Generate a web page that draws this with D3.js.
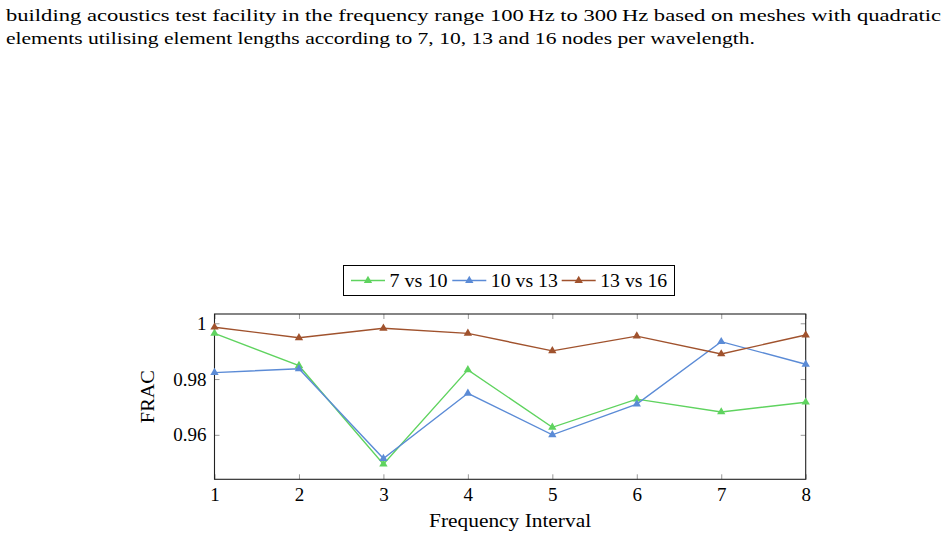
<!DOCTYPE html>
<html>
<head>
<meta charset="utf-8">
<script src="https://cdn.jsdelivr.net/npm/d3@7/dist/d3.min.js"></script>
<style>
  html, body { margin: 0; padding: 0; background: #fff; }
  svg { display: block; }
  text { font-family: "Liberation Serif", "DejaVu Serif", serif; fill: #000; }
</style>
</head>
<body>
<svg id="chart" width="947" height="541"></svg>
<script>
// ---- data ----
const intervals = [1, 2, 3, 4, 5, 6, 7, 8];
const seriesNames = ["7 vs 10", "10 vs 13", "13 vs 16"];
const frac7vs10  = [0.9964, 0.9848, 0.9495, 0.9833, 0.9627, 0.9728, 0.9682, 0.9717];
const frac10vs13 = [0.9823, 0.9837, 0.9515, 0.9749, 0.9600, 0.9710, 0.9934, 0.9853];
const frac13vs16 = [0.9986, 0.9948, 0.9982, 0.9964, 0.9901, 0.9954, 0.9890, 0.9958];
const yTicks = [0.96, 0.98, 1];
const yTickLabels = ["0.96", "0.98", "1"];
const xTickLabels = ["1", "2", "3", "4", "5", "6", "7", "8"];
const seriesColors = ["#5fd35f", "#5b8bd6", "#a0522d"];
const captionLines = [
  "building acoustics test facility in the frequency range 100\u2009Hz to 300\u2009Hz based on meshes with quadratic",
  "elements utilising element lengths according to 7, 10, 13 and 16 nodes per wavelength."
];

const series = [frac7vs10, frac10vs13, frac13vs16].map((vals, i) => ({
  name: seriesNames[i], color: seriesColors[i],
  points: intervals.map((xv, j) => ({ x: xv, y: vals[j] }))
}));

const svg = d3.select("#chart");

// caption text
const capWidths = [935, 749];
captionLines.forEach((t, i) => {
  svg.append("text")
    .attr("x", 6).attr("y", 20.5 + i * 23.8)
    .attr("font-size", 17.5)
    .attr("textLength", capWidths[i])
    .attr("lengthAdjust", "spacingAndGlyphs")
    .text(t);
});

// plot area
const pLeft = 214.5, pRight = 805.7, pTop = 314, pBottom = 479.3;
const x = d3.scaleLinear().domain([1, 8]).range([pLeft, pRight]);
const y = d3.scaleLinear().domain([0.94405, 1.00333]).range([pBottom, pTop]);

// ticks (inside, on all sides)
const tickLen = 5;
const gAxes = svg.append("g");
const xAxisB = d3.axisBottom(x).tickValues(intervals).tickFormat((d, i) => xTickLabels[i]).tickSize(-tickLen).tickPadding(8);
const xAxisT = d3.axisTop(x).tickValues(intervals).tickFormat("").tickSize(-tickLen);
const yAxisL = d3.axisLeft(y).tickValues(yTicks).tickFormat((d, i) => yTickLabels[i]).tickSize(-tickLen).tickPadding(8);
const yAxisR = d3.axisRight(y).tickValues(yTicks).tickFormat("").tickSize(-tickLen);

function styleAxis(g) {
  g.select(".domain").remove();
  g.selectAll(".tick line").attr("stroke", "#999").attr("stroke-width", 1);
  g.selectAll(".tick text").attr("font-size", 19).attr("font-family", "Liberation Serif, DejaVu Serif, serif").attr("fill", "#000");
}
gAxes.append("g").attr("transform", `translate(0,${pBottom})`).call(xAxisB).call(styleAxis);
gAxes.append("g").attr("transform", `translate(0,${pTop})`).call(xAxisT).call(styleAxis);
gAxes.append("g").attr("transform", `translate(${pLeft},0)`).call(yAxisL).call(styleAxis);
gAxes.append("g").attr("transform", `translate(${pRight},0)`).call(yAxisR).call(styleAxis);

// frame
svg.append("rect")
  .attr("x", pLeft).attr("y", pTop)
  .attr("width", pRight - pLeft).attr("height", pBottom - pTop)
  .attr("fill", "none").attr("stroke", "#222").attr("stroke-width", 1.1);

// series
const line = d3.line().x(d => x(d.x)).y(d => y(d.y));
const tri = d3.symbol().type(d3.symbolTriangle).size(30);
series.forEach(s => {
  svg.append("path").datum(s.points)
    .attr("d", line).attr("fill", "none")
    .attr("stroke", s.color).attr("stroke-width", 1.4);
  svg.append("g").selectAll("path").data(s.points).join("path")
    .attr("d", tri)
    .attr("transform", d => `translate(${x(d.x)},${y(d.y)})`)
    .attr("fill", s.color);
});

// axis labels
svg.append("text")
  .attr("x", (pLeft + pRight) / 2).attr("y", 527.3)
  .attr("text-anchor", "middle").attr("font-size", 19)
  .attr("textLength", 162).attr("lengthAdjust", "spacingAndGlyphs")
  .text("Frequency Interval");
svg.append("text")
  .attr("transform", `translate(153.5,${(pTop + pBottom) / 2}) rotate(-90)`)
  .attr("text-anchor", "middle").attr("font-size", 19)
  .attr("textLength", 53).attr("lengthAdjust", "spacingAndGlyphs")
  .text("FRAC");

// legend
const legend = svg.append("g");
legend.append("rect")
  .attr("x", 343.5).attr("y", 265.5).attr("width", 331).attr("height", 30)
  .attr("fill", "#fff").attr("stroke", "#000").attr("stroke-width", 1);
const legendX = [351, 452.3, 561.7];
const legendTextW = [58, 67, 67];
series.forEach((s, i) => {
  const lx = legendX[i], ly = 280.5;
  legend.append("line")
    .attr("x1", lx).attr("x2", lx + 34).attr("y1", ly).attr("y2", ly)
    .attr("stroke", s.color).attr("stroke-width", 1.4);
  legend.append("path").attr("d", tri)
    .attr("transform", `translate(${lx + 17},${ly})`).attr("fill", s.color);
  legend.append("text")
    .attr("x", lx + 38.5).attr("y", 287)
    .attr("font-size", 19)
    .attr("textLength", legendTextW[i]).attr("lengthAdjust", "spacingAndGlyphs")
    .text(s.name);
});
</script>
</body>
</html>
